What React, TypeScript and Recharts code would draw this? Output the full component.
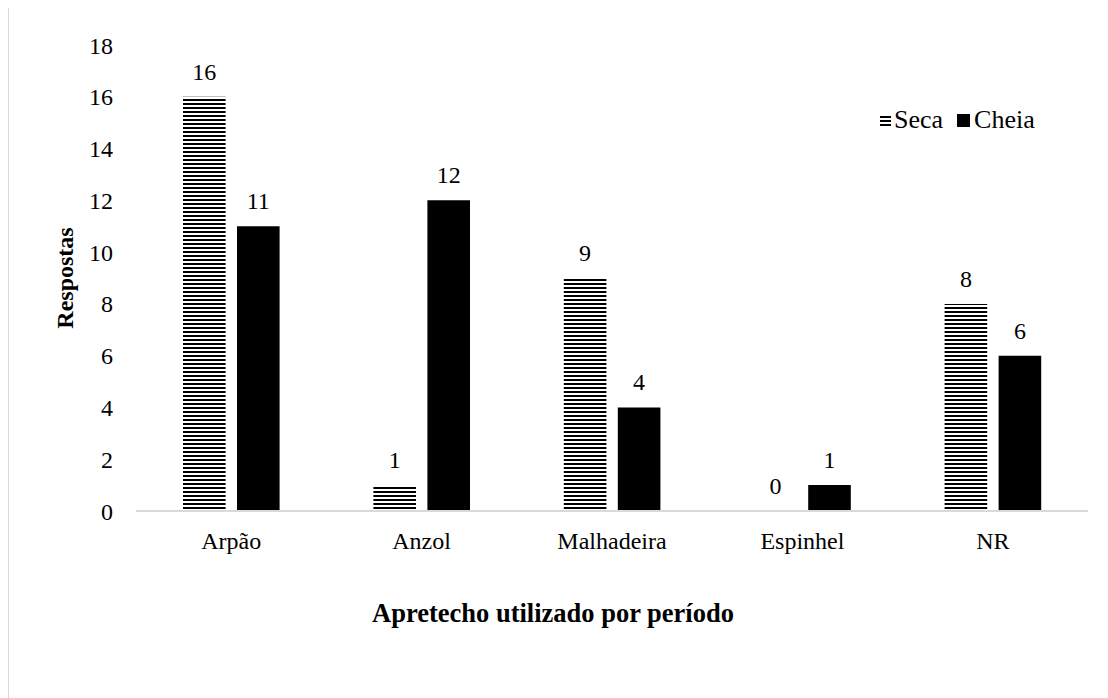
import { BarChart, Bar, XAxis, YAxis, LabelList } from "recharts";

const categorias = ["Arpão", "Anzol", "Malhadeira", "Espinhel", "NR"];
const seca = [16, 1, 9, 0, 8];
const cheia = [11, 12, 4, 1, 6];
const yTicks = [0, 2, 4, 6, 8, 10, 12, 14, 16, 18];
const series = ["Seca", "Cheia"];

const data = categorias.map((nome, i) => ({ nome, Seca: seca[i], Cheia: cheia[i] }));

const FONT = "Liberation Serif, Times New Roman, serif";

function LegendaIcon({ tipo }: { tipo: string }) {
  if (tipo === "Seca") {
    return (
      <svg width={11} height={11} style={{ marginRight: 3 }}>
        <rect x={0} y={1} width={11} height={2} fill="#000" />
        <rect x={0} y={5} width={11} height={2} fill="#000" />
        <rect x={0} y={9} width={11} height={2} fill="#000" />
      </svg>
    );
  }
  return (
    <svg width={13} height={13} style={{ marginRight: 4 }}>
      <rect x={0} y={0} width={13} height={13} fill="#000" />
    </svg>
  );
}

function Legenda() {
  return (
    <div
      style={{
        position: "absolute",
        left: 871,
        top: 100,
        display: "flex",
        alignItems: "center",
        fontSize: 26,
        lineHeight: "26px",
        color: "#000",
      }}
    >
      {series.map((s) => (
        <span key={s} style={{ display: "flex", alignItems: "center", marginRight: 14 }}>
          <LegendaIcon tipo={s} />
          {s}
        </span>
      ))}
    </div>
  );
}

const valorTexto = (v: any) => String(v);

export default function App() {
  return (
    <div
      style={{
        position: "relative",
        marginTop: -2,
        width: 1110,
        height: 700,
        borderLeft: "1px solid #d9d9d9",
        borderTop: "1px solid #d9d9d9",
        background: "#fff",
        fontFamily: FONT,
      }}
    >
      <BarChart
        width={1099}
        height={691}
        data={data}
        margin={{ top: 38, right: 20, left: 67, bottom: 157 }}
        barSize={42.6}
        barGap={11.4}
        style={{ fontFamily: FONT }}
      >
        <defs>
          <pattern id="listras" patternUnits="userSpaceOnUse" width={8} height={4}>
            <rect x={0} y={0} width={8} height={2} fill="#000" />
          </pattern>
        </defs>
        <XAxis
          dataKey="nome"
          axisLine={{ stroke: "#d9d9d9", strokeWidth: 2 }}
          tickLine={false}
          tickSize={0}
          tickMargin={21}
          height={30}
          tick={{ fill: "#000", fontSize: 24, fontFamily: FONT }}
        />
        <YAxis
          domain={[0, 18]}
          ticks={yTicks}
          axisLine={false}
          tickLine={false}
          tickSize={0}
          tickMargin={23}
          width={60}
          tick={{ fill: "#000", fontSize: 24, fontFamily: FONT }}
        />
        <Bar dataKey="Seca" fill="url(#listras)" minPointSize={0.01} isAnimationActive={false}>
          <LabelList dataKey="Seca" position="top" offset={17} fill="#000" fontSize={24} fontFamily={FONT} formatter={valorTexto} />
        </Bar>
        <Bar dataKey="Cheia" fill="#000" isAnimationActive={false}>
          <LabelList dataKey="Cheia" position="top" offset={17} fill="#000" fontSize={24} fontFamily={FONT} formatter={valorTexto} />
        </Bar>
      </BarChart>
      <Legenda />
      <div
        style={{
          position: "absolute",
          left: 56,
          top: 271,
          transform: "translate(-50%, -50%) rotate(-90deg)",
          fontWeight: "bold",
          fontSize: 24,
          whiteSpace: "nowrap",
        }}
      >
        Respostas
      </div>
      <div
        style={{
          position: "absolute",
          left: 544,
          top: 606,
          transform: "translate(-50%, -50%)",
          fontWeight: "bold",
          fontSize: 26.5,
          whiteSpace: "nowrap",
        }}
      >
        Apretecho utilizado por período
      </div>
    </div>
  );
}
